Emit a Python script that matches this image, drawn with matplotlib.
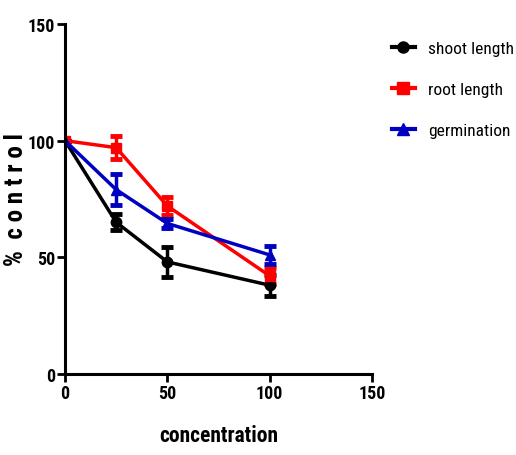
import numpy as np
import matplotlib
matplotlib.use('Agg')
import matplotlib.pyplot as plt
from matplotlib import font_manager
from matplotlib.lines import Line2D

# pick a narrow sans, like the Arial Narrow in the original
names = {f.name for f in font_manager.fontManager.ttflist}
narrow = 'DejaVu Sans'
for cand in ['Liberation Sans Narrow', 'Arial Narrow', 'Roboto Condensed', 'PT Sans Narrow',
             'Archivo Narrow', 'Barlow Semi Condensed']:
    if cand in names:
        narrow = cand
        break
plt.rcParams['font.family'] = [narrow, 'DejaVu Sans']

# Data
conc = [0, 25, 50, 100]
shoot = [100, 65, 48, 38]
shoot_err = [0, 3.5, 6.5, 4.5]
root = [100, 97, 72, 42]
root_err = [0, 5, 4, 3.5]
germ = [100, 79, 64.5, 51]
germ_err = [0, 6.5, 2, 4]

fig = plt.figure(figsize=(5.16, 4.56), dpi=100)
ax = fig.add_axes([0.126, 0.178, 0.595, 0.767])

series = [
    ('shoot length', shoot, shoot_err, 'black', 'o'),
    ('root length', root, root_err, 'red', 's'),
    ('germination', germ, germ_err, '#0000c0', '^'),
]
handles = []
for lab, y, e, c, m in series:
    ax.errorbar(conc, y, yerr=e, color=c, marker=m, markersize=7.5, linewidth=2.5,
                elinewidth=2.5, capsize=4, capthick=3.5)
    handles.append(Line2D([], [], color=c, marker=m, markersize=8, linewidth=3, label=lab))

ax.set_xlim(0, 150)
ax.set_ylim(0, 150)
ax.set_xticks([0, 50, 100, 150])
ax.set_yticks([0, 50, 100, 150])
for s in ['top', 'right']:
    ax.spines[s].set_visible(False)
for s in ['left', 'bottom']:
    ax.spines[s].set_linewidth(2.2)
ax.tick_params(direction='out', width=2, length=6, pad=1, labelsize=13)
for t in ax.get_xticklabels() + ax.get_yticklabels():
    t.set_fontweight('bold')

ax.set_xlabel('concentration', fontsize=15.5, fontweight='bold', labelpad=16)
ax.set_ylabel('%  c o n t r o l', fontsize=18, fontweight='bold')
ax.yaxis.set_label_coords(-0.12, 0.5)

fig.legend(handles=handles, loc='upper left', bbox_to_anchor=(0.760, 0.908),
           frameon=False, fontsize=12.5, handlelength=1.3, handletextpad=0.75,
           labelspacing=1.5, borderpad=0, borderaxespad=0)

fig.savefig('out.png', dpi=100)
